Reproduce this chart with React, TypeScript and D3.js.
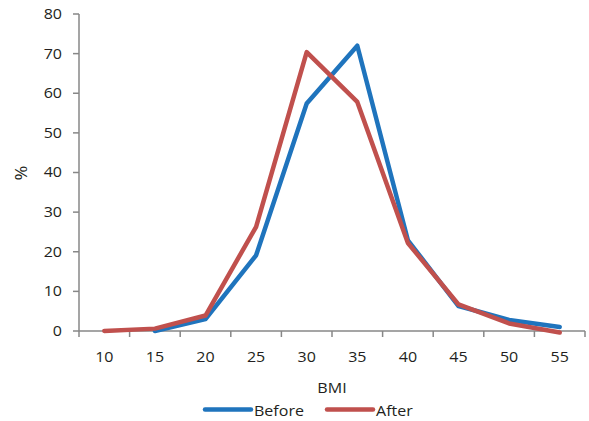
import React from "react";
import * as d3 from "d3";

const categories = ["10", "15", "20", "25", "30", "35", "40", "45", "50", "55"];
const beforeValues: (number | null)[] = [null, 0, 3.0, 19.1, 57.4, 72.0, 22.9, 6.3, 2.8, 1.0];
const afterValues: (number | null)[] = [0, 0.6, 3.9, 26.3, 70.4, 57.8, 22.2, 6.7, 1.9, -0.4];
const yTicks = [0, 10, 20, 30, 40, 50, 60, 70, 80];
const seriesNames = ["Before", "After"];
const seriesColors = ["#1F74BD", "#C0504D"];

const W = 589, H = 421;
const left = 79, right = 585, top = 14, bottom = 331;
const font = "'Open Sans', sans-serif";
const textColor = "#231F20";
const axisColor = "#878787";
const SX = 1.13;

function T(props: { x: number; y: number; anchor?: string; rotate?: number; size?: number; children: React.ReactNode }) {
  const { x, y, anchor = "start", rotate = 0, size = 14.2, children } = props;
  return (
    <text
      transform={`translate(${x},${y}) rotate(${rotate}) scale(${SX},1)`}
      dy="0.35em"
      textAnchor={anchor}
      fontFamily={font}
      fontSize={size}
      fill={textColor}
    >
      {children}
    </text>
  );
}

export default function App() {
  const x = d3.scaleBand<string>().domain(categories).range([left, right]).padding(0);
  const y = d3.scaleLinear().domain([0, 80]).range([bottom, top]);
  const bw = x.bandwidth();
  const line = d3
    .line<number | null>()
    .defined((d) => d !== null)
    .x((_, i) => (x(categories[i]) as number) + bw / 2)
    .y((d) => y(d as number));
  const series = [beforeValues, afterValues];
  const edges = categories.map((c) => x(c) as number).concat([right]);

  return (
    <svg width={W} height={H} style={{ position: "absolute", left: 0, top: 0, background: "#fff" }}>
      <line x1={left} x2={left} y1={y(80)} y2={bottom} stroke={axisColor} strokeWidth={1.5} />
      <line x1={left} x2={right} y1={bottom} y2={bottom} stroke={axisColor} strokeWidth={1.5} />
      {yTicks.map((t) => (
        <g key={t}>
          <line x1={left - 6} x2={left} y1={y(t)} y2={y(t)} stroke={axisColor} strokeWidth={1.5} />
          <T x={62} y={y(t)} anchor="end">{t}</T>
        </g>
      ))}
      {edges.map((e, i) => (
        <line key={i} x1={e} x2={e} y1={bottom} y2={bottom + 6} stroke={axisColor} strokeWidth={1.5} />
      ))}
      {categories.map((c) => (
        <T key={c} x={(x(c) as number) + bw / 2} y={357} anchor="middle">{c}</T>
      ))}
      <T x={332} y={388} anchor="middle">BMI</T>
      <T x={21.5} y={173} anchor="middle" rotate={-90} size={16}>%</T>
      {series.map((s, i) => (
        <path key={i} d={line(s) || ""} fill="none" stroke={seriesColors[i]} strokeWidth={4.5} strokeLinejoin="round" strokeLinecap="round" />
      ))}
      {seriesNames.map((n, i) => {
        const lx = i === 0 ? 205 : 327;
        return (
          <g key={n}>
            <line x1={lx} x2={lx + 46} y1={409.5} y2={409.5} stroke={seriesColors[i]} strokeWidth={4.5} strokeLinecap="round" />
            <T x={lx + 49} y={411} anchor="start">{n}</T>
          </g>
        );
      })}
    </svg>
  );
}
